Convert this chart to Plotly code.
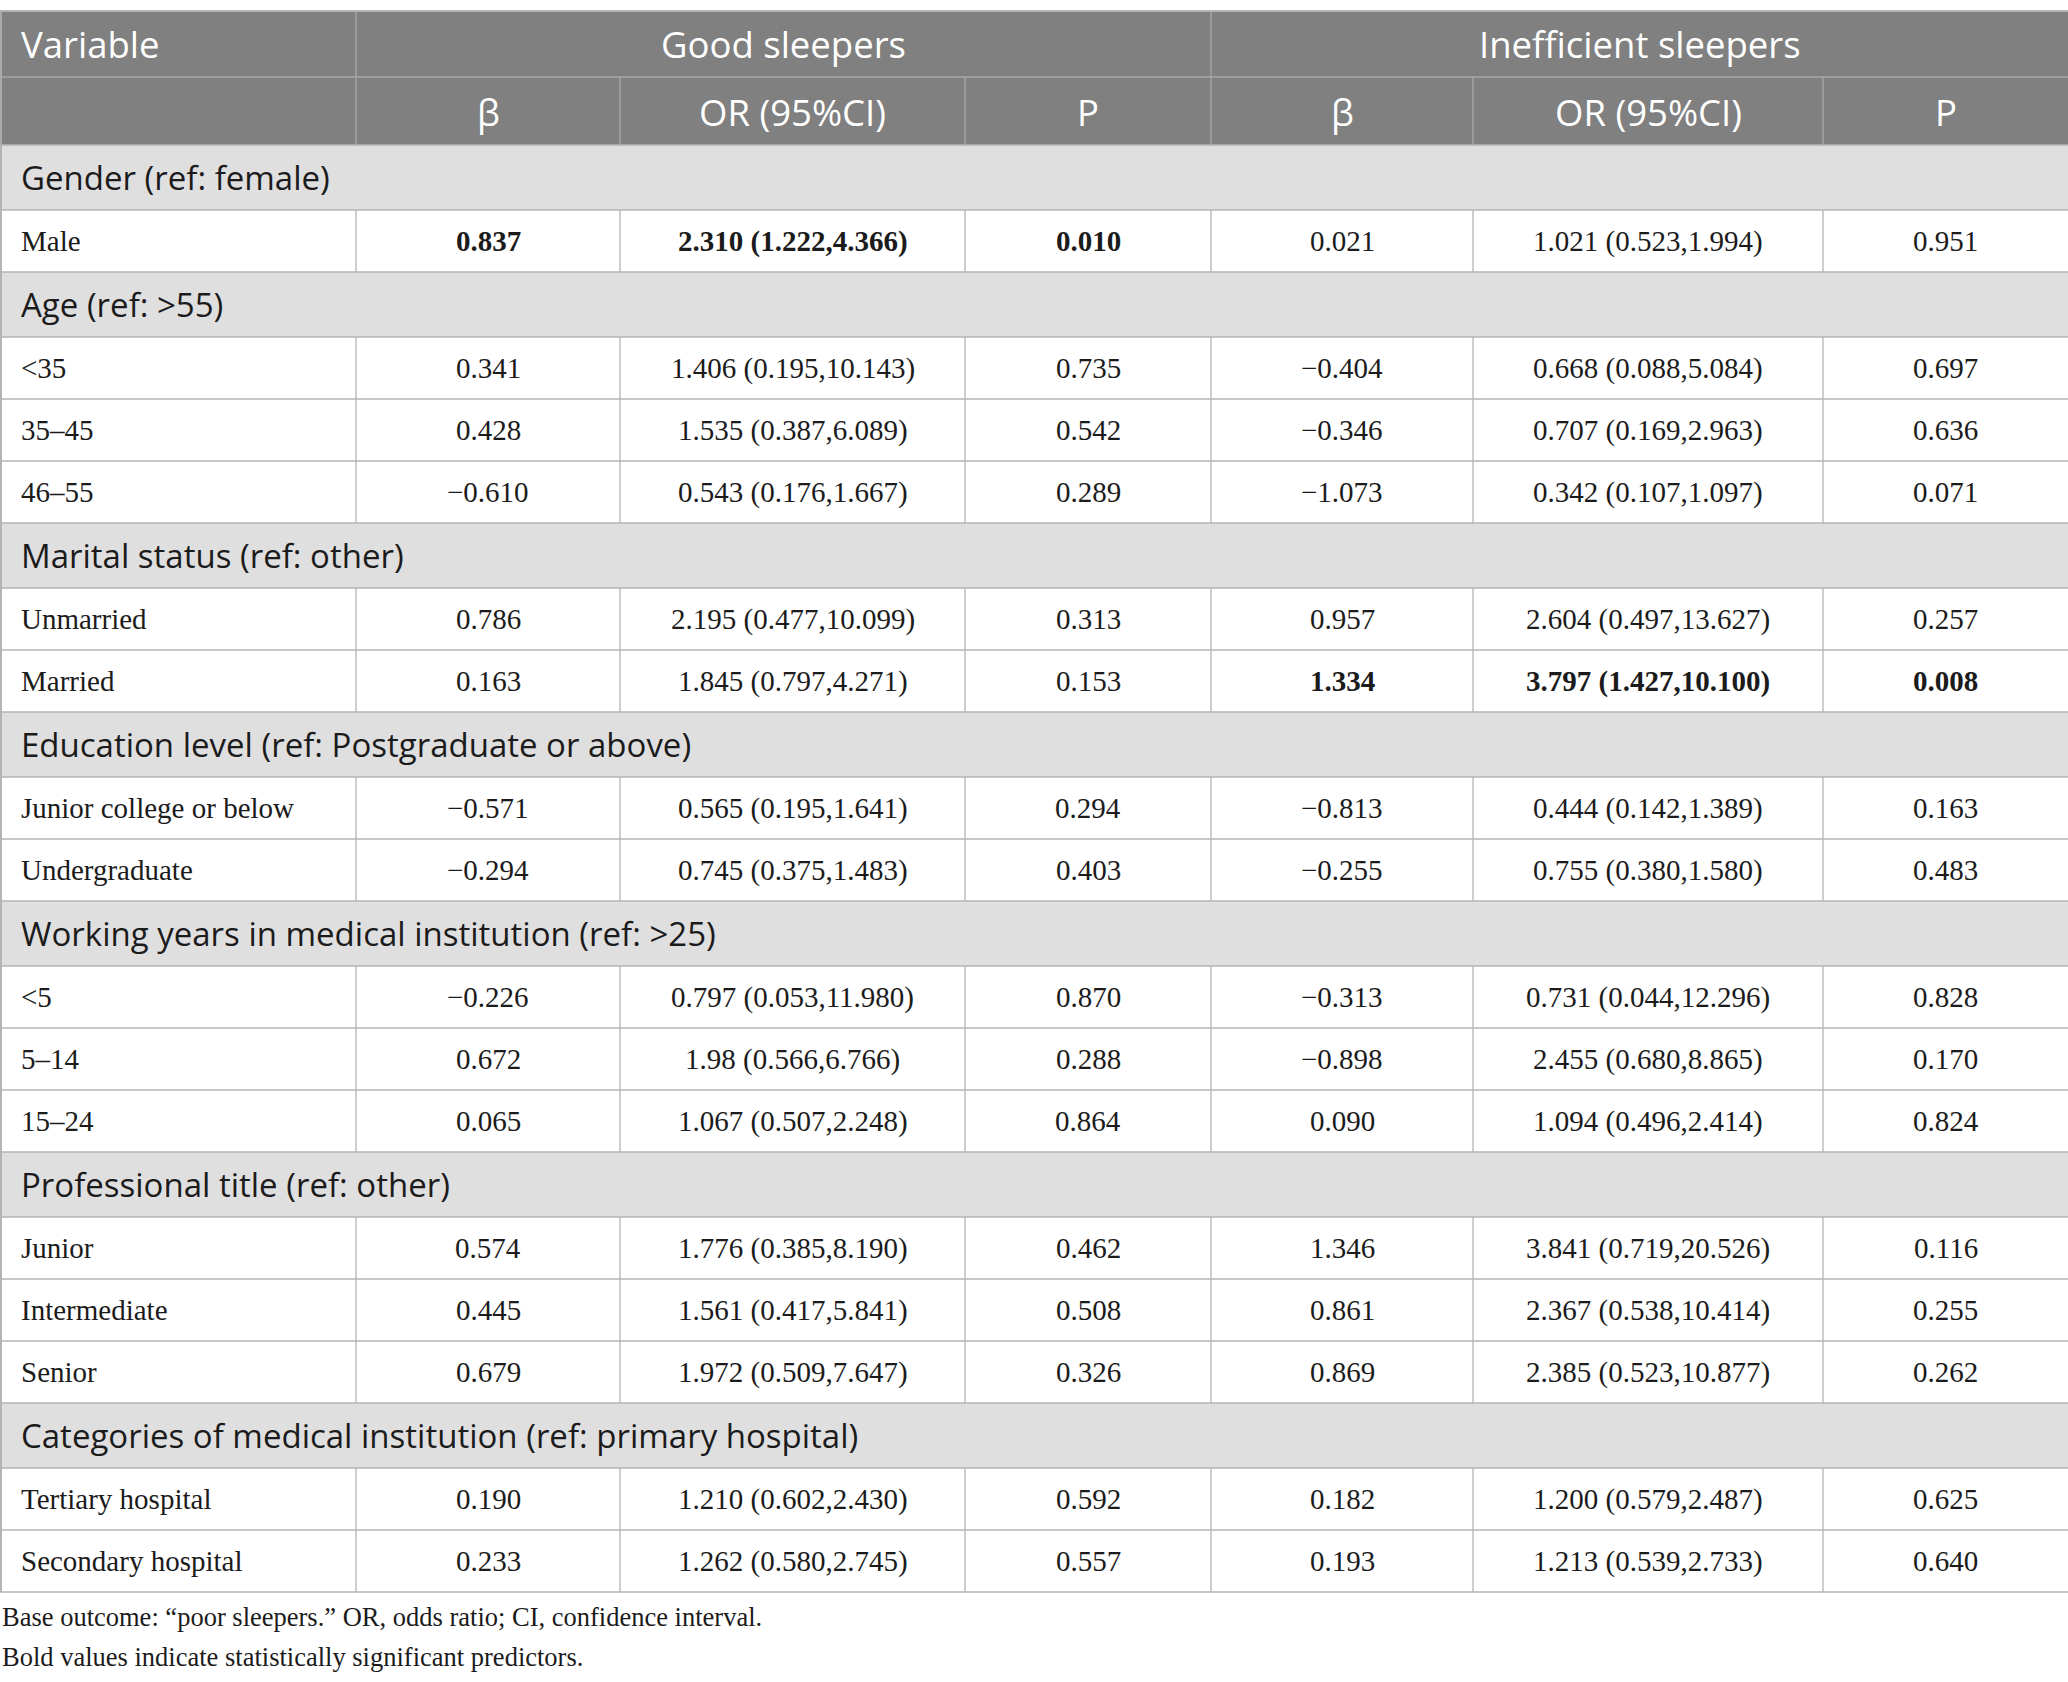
import plotly.graph_objects as go

# ---------------- data ----------------
sections = [
    "Gender (ref: female)",
    "Age (ref: >55)",
    "Marital status (ref: other)",
    "Education level (ref: Postgraduate or above)",
    "Working years in medical institution (ref: >25)",
    "Professional title (ref: other)",
    "Categories of medical institution (ref: primary hospital)",
]
row_labels = ["Male", "<35", "35–45", "46–55", "Unmarried", "Married",
              "Junior college or below", "Undergraduate", "<5", "5–14", "15–24",
              "Junior", "Intermediate", "Senior", "Tertiary hospital", "Secondary hospital"]
row_section = [0, 1, 1, 1, 2, 2, 3, 3, 4, 4, 4, 5, 5, 5, 6, 6]

good_beta = ["0.837", "0.341", "0.428", "−0.610", "0.786", "0.163", "−0.571", "−0.294",
             "−0.226", "0.672", "0.065", "0.574", "0.445", "0.679", "0.190", "0.233"]
good_or = ["2.310 (1.222,4.366)", "1.406 (0.195,10.143)", "1.535 (0.387,6.089)", "0.543 (0.176,1.667)",
           "2.195 (0.477,10.099)", "1.845 (0.797,4.271)", "0.565 (0.195,1.641)", "0.745 (0.375,1.483)",
           "0.797 (0.053,11.980)", "1.98 (0.566,6.766)", "1.067 (0.507,2.248)", "1.776 (0.385,8.190)",
           "1.561 (0.417,5.841)", "1.972 (0.509,7.647)", "1.210 (0.602,2.430)", "1.262 (0.580,2.745)"]
good_p = ["0.010", "0.735", "0.542", "0.289", "0.313", "0.153", "0.294", "0.403",
          "0.870", "0.288", "0.864", "0.462", "0.508", "0.326", "0.592", "0.557"]
ineff_beta = ["0.021", "−0.404", "−0.346", "−1.073", "0.957", "1.334", "−0.813", "−0.255",
              "−0.313", "−0.898", "0.090", "1.346", "0.861", "0.869", "0.182", "0.193"]
ineff_or = ["1.021 (0.523,1.994)", "0.668 (0.088,5.084)", "0.707 (0.169,2.963)", "0.342 (0.107,1.097)",
            "2.604 (0.497,13.627)", "3.797 (1.427,10.100)", "0.444 (0.142,1.389)", "0.755 (0.380,1.580)",
            "0.731 (0.044,12.296)", "2.455 (0.680,8.865)", "1.094 (0.496,2.414)", "3.841 (0.719,20.526)",
            "2.367 (0.538,10.414)", "2.385 (0.523,10.877)", "1.200 (0.579,2.487)", "1.213 (0.539,2.733)"]
ineff_p = ["0.951", "0.697", "0.636", "0.071", "0.257", "0.008", "0.163", "0.483",
           "0.828", "0.170", "0.824", "0.116", "0.255", "0.262", "0.625", "0.640"]
bold_good = [0]      # row indices significant in Good sleepers
bold_ineff = [5]     # row indices significant in Inefficient sleepers

group_headers = ["Good sleepers", "Inefficient sleepers"]
sub_headers = ["β", "OR (95%CI)", "P"]
first_header = "Variable"
footnotes = ["Base outcome: \u201cpoor sleepers.\u201d OR, odds ratio; CI, confidence interval.",
             "Bold values indicate statistically significant predictors."]

# ---------------- layout geometry ----------------
W, H = 2068, 1682
col_x = [0, 356, 620, 965, 1211, 1473, 1823, 2068]
top = 11
h_head1, h_head2, h_sec, h_row = 66, 68, 65, 62

HEAD_BG = "#7f807f"
HEAD_LINE = "#a9a9a9"
SEC_BG = "#e0dfe0"
LINE = "#b4b4b4"
TXT = "#1b1b1b"
SANS = "Open Sans"
SERIF = "Liberation Serif"
F_HEAD, F_SEC, F_CELL, F_NOTE = 36.5, 33, 29, 26.5
PAD = 19

shapes = []
ann = []


def rect(x0, y0, x1, y1, color):
    shapes.append(dict(type="rect", xref="x", yref="y", x0=x0, x1=x1, y0=y0, y1=y1,
                       fillcolor=color, line=dict(width=0), layer="below"))


def line(x0, y0, x1, y1, color, w):
    shapes.append(dict(type="line", xref="x", yref="y", x0=x0, x1=x1, y0=y0, y1=y1,
                       line=dict(color=color, width=w), layer="above"))


def text(x, y, s, size, font, color, anchor="center"):
    ann.append(dict(x=x, y=y, xref="x", yref="y", text=s, showarrow=False,
                    xanchor=anchor, yanchor="middle",
                    font=dict(family=font, size=size, color=color)))


# header rows
y = top
rect(0, y, W, y + h_head1 + h_head2, HEAD_BG)
text(PAD, y + h_head1 / 2, first_header, F_HEAD, SANS, "white", "left")
text((col_x[1] + col_x[4]) / 2, y + h_head1 / 2, group_headers[0], F_HEAD, SANS, "white")
text((col_x[4] + col_x[7]) / 2, y + h_head1 / 2, group_headers[1], F_HEAD, SANS, "white")
for cx in (col_x[1], col_x[4]):
    line(cx, y, cx, y + h_head1, HEAD_LINE, 1.3)
y1 = y + h_head1
line(0, y1, W, y1, HEAD_LINE, 1.5)
for g in range(2):
    for k, s in enumerate(sub_headers):
        c = 1 + 3 * g + k
        text((col_x[c] + col_x[c + 1]) / 2, y1 + h_head2 / 2 + 1, s, F_HEAD, SANS, "white")
for cx in col_x[1:-1]:
    line(cx, y1, cx, y1 + h_head2, HEAD_LINE, 1.3)
line(0, top, W, top, "#b5b5b5", 2)
line(1, top, 1, y1 + h_head2, HEAD_LINE, 2)
y = y1 + h_head2

# body
prev_sec = -1
hlines = [y]
for i, lab in enumerate(row_labels):
    s = row_section[i]
    if s != prev_sec:
        rect(0, y, W, y + h_sec, SEC_BG)
        text(PAD, y + h_sec / 2, sections[s], F_SEC, SANS, TXT, "left")
        line(1, y, 1, y + h_sec, LINE, 2)
        y += h_sec
        hlines.append(y)
        prev_sec = s
    yc = y + h_row / 2
    text(PAD, yc, lab, F_CELL, SERIF, TXT, "left")
    vals = [good_beta[i], good_or[i], good_p[i], ineff_beta[i], ineff_or[i], ineff_p[i]]
    for k, v in enumerate(vals):
        b = (k < 3 and i in bold_good) or (k >= 3 and i in bold_ineff)
        sv = "<b>" + v + "</b>" if b else v
        text((col_x[k + 1] + col_x[k + 2]) / 2, yc, sv, F_CELL, SERIF, TXT)
    for cx in col_x[:-1]:
        line(cx if cx else 1, y, cx if cx else 1, y + h_row, LINE, 1.3 if cx else 2)
    y += h_row
    hlines.append(y)
    prev_sec = s

for hy in hlines:
    line(0, hy, W, hy, LINE, 1.7)

bottom = y
text(0, bottom + 25, footnotes[0], F_NOTE, SERIF, TXT, "left")
text(0, bottom + 65, footnotes[1], F_NOTE, SERIF, TXT, "left")

fig = go.Figure()
fig.update_layout(
    width=W, height=H, margin=dict(l=0, r=0, t=0, b=0),
    paper_bgcolor="white", plot_bgcolor="white",
    xaxis=dict(range=[0, W], visible=False, fixedrange=True),
    yaxis=dict(range=[H, 0], visible=False, fixedrange=True),
    shapes=shapes, annotations=ann, showlegend=False,
)
fig.write_html("out.html", config={"displayModeBar": False},
               post_script="document.body.style.margin='0px';document.body.style.overflow='hidden';")
